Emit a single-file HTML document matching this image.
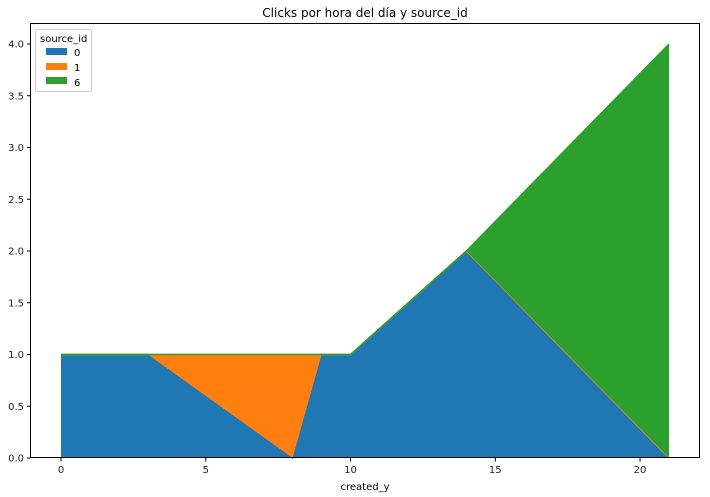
<!DOCTYPE html>
<html><head><meta charset="utf-8"><style>
body{margin:0;background:#fff;}
svg{display:block;font-family:"DejaVu Sans","Liberation Sans",sans-serif;}
</style></head><body>
<svg id="chart" width="710" height="497">
<rect x="0" y="0" width="710" height="497" fill="#fff"/>
<text x="365" y="17" font-size="12" text-anchor="middle">Clicks por hora del día y source_id</text>
<g id="areas"></g>
<g id="axes"></g>
<rect x="30.5" y="23.5" width="669" height="434" fill="none" stroke="#000" stroke-width="1"/>
<text x="365" y="490" font-size="10" text-anchor="middle">created_y</text>
<g>
<rect x="35.5" y="29.5" width="56" height="62" rx="2" fill="#fff" fill-opacity="0.8" stroke="#ccc"/>
<text x="40" y="42" font-size="10">source_id</text>
<rect x="46" y="48" width="21" height="7" fill="#1f77b4"/>
<text x="74" y="56" font-size="10">0</text>
<rect x="46" y="63" width="21" height="7" fill="#ff7f0e"/>
<text x="74" y="71" font-size="10">1</text>
<rect x="46" y="77" width="21" height="7" fill="#2ca02c"/>
<text x="74" y="86" font-size="10">6</text>
</g>
</svg>
<script>
const hours = [0, 3, 8, 9, 10, 14, 21];
const source0 = [1, 1, 0, 1, 1, 2, 0];
const source1 = [0, 0, 1, 0, 0, 0, 0];
const source6 = [0, 0, 0, 0, 0, 0, 4];
const xTicks = [0, 5, 10, 15, 20];
const yTicks = [0, 0.5, 1, 1.5, 2, 2.5, 3, 3.5, 4];

const NS = "http://www.w3.org/2000/svg";
const xs = v => 61 + v * (608 / 21);
const ys = v => 458 - v * (414 / 4);
const areas = document.getElementById('areas');
const axes = document.getElementById('axes');
const series = [source0, source1, source6];
const colors = ['#1f77b4', '#ff7f0e', '#2ca02c'];
const names = ['0', '1', '6'];
let base = hours.map(() => 0);
series.forEach((s, k) => {
  const top = s.map((v, i) => base[i] + v);
  let d = hours.map((h, i) => (i ? 'L' : 'M') + xs(h) + ',' + ys(top[i])).join('');
  for (let i = hours.length - 1; i >= 0; i--) d += 'L' + xs(hours[i]) + ',' + ys(base[i]);
  const p = document.createElementNS(NS, 'path');
  p.setAttribute('d', d + 'Z');
  p.setAttribute('fill', colors[k]);
  
  
  areas.appendChild(p);
  const l = document.createElementNS(NS, 'polyline');
  l.setAttribute('points', hours.map((h, i) => xs(h) + ',' + ys(top[i])).join(' '));
  l.setAttribute('fill', 'none');
  l.setAttribute('stroke', colors[k]);
  l.setAttribute('stroke-width', '1.5');
  
  
  areas.appendChild(l);
  base = top;
});
xTicks.forEach(t => {
  const ln = document.createElementNS(NS, 'line');
  ln.setAttribute('x1', xs(t)); ln.setAttribute('x2', xs(t));
  ln.setAttribute('y1', 458); ln.setAttribute('y2', 461.5);
  ln.setAttribute('stroke', '#000');
  
  
  axes.appendChild(ln);
  const tx = document.createElementNS(NS, 'text');
  tx.setAttribute('x', xs(t)); tx.setAttribute('y', 473);
  tx.setAttribute('font-size', '10'); tx.setAttribute('text-anchor', 'middle');
  tx.setAttribute('fill', '#222');
  
  
  tx.textContent = t;
  axes.appendChild(tx);
});
yTicks.forEach(t => {
  const ln = document.createElementNS(NS, 'line');
  ln.setAttribute('x1', 27); ln.setAttribute('x2', 30.5);
  ln.setAttribute('y1', ys(t)); ln.setAttribute('y2', ys(t));
  ln.setAttribute('stroke', '#000');
  
  
  axes.appendChild(ln);
  const tx = document.createElementNS(NS, 'text');
  tx.setAttribute('x', 24); tx.setAttribute('y', ys(t) + 3.5);
  tx.setAttribute('font-size', '10'); tx.setAttribute('text-anchor', 'end');
  tx.setAttribute('fill', '#222');
  
  
  tx.textContent = t.toFixed(1);
  axes.appendChild(tx);
});
</script>
</body></html>
